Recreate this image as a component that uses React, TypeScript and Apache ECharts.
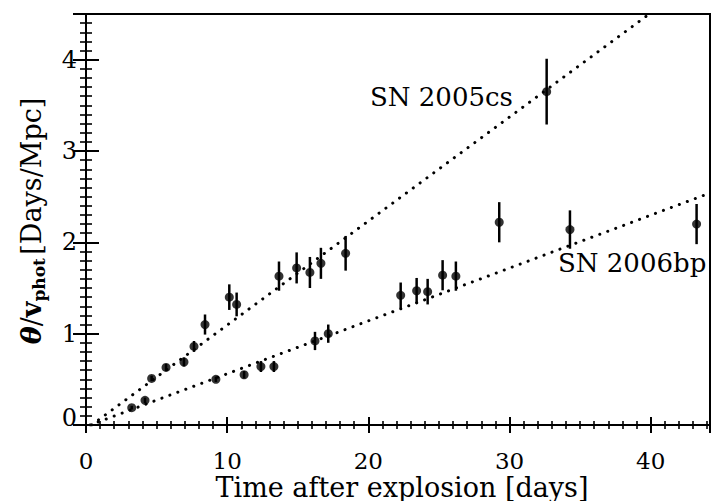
import React, { useEffect, useRef } from "react";
import * as echarts from "echarts";

// SN 2005cs: time [days], theta/v_phot [Days/Mpc], error
const t2005cs = [4.65, 5.67, 6.94, 7.65, 8.43, 10.15, 10.67, 13.67, 14.92, 15.86, 16.64, 18.39, 32.63];
const v2005cs = [0.51, 0.63, 0.69, 0.86, 1.1, 1.4, 1.32, 1.63, 1.72, 1.67, 1.77, 1.88, 3.65];
const e2005cs = [0.03, 0.04, 0.05, 0.06, 0.11, 0.14, 0.13, 0.16, 0.17, 0.17, 0.17, 0.19, 0.36];

// SN 2006bp
const t2006bp = [3.24, 4.18, 9.2, 11.2, 12.39, 13.31, 16.22, 17.16, 22.29, 23.42, 24.2, 25.26, 26.2, 29.27, 34.28, 43.25];
const v2006bp = [0.19, 0.27, 0.5, 0.55, 0.64, 0.64, 0.92, 1.0, 1.42, 1.47, 1.46, 1.64, 1.63, 2.22, 2.14, 2.2];
const e2006bp = [0.02, 0.03, 0.03, 0.04, 0.06, 0.06, 0.1, 0.1, 0.14, 0.14, 0.14, 0.165, 0.16, 0.22, 0.21, 0.22];

// dotted linear fits (end points)
const fit2005csT = [0.4, 39.9];
const fit2005csV = [0.0, 4.5];
const fit2006bpT = [0.3, 44.2];
const fit2006bpV = [0.0, 2.54];

const xMin = 0;
const xMax = 44.2;
const yMin = 0;
const yMax = 4.5;

const labels = ["SN 2005cs", "SN 2006bp"];
const xTitle = "Time after explosion [days]";

const FONT = "'DejaVu Serif', serif";

export default function App() {
  const ref = useRef<HTMLDivElement>(null);
  useEffect(() => {
    if (!ref.current) return;
    const chart = echarts.init(ref.current, undefined, { renderer: "svg" });
    const pts = (t: number[], v: number[], e: number[]) => t.map((x, i) => [x, v[i], e[i]]);
    const errRender = (params: any, api: any) => {
      const x = api.value(0);
      const y = api.value(1);
      const e = api.value(2);
      const p1 = api.coord([x, y - e]);
      const p2 = api.coord([x, y + e]);
      return {
        type: "line",
        shape: { x1: p1[0], y1: p1[1], x2: p2[0], y2: p2[1] },
        style: { stroke: "#000", lineWidth: 2.5 },
      };
    };
    const grid = { left: 86, top: 14, width: 624, height: 411, show: true, borderColor: "#000", borderWidth: 2, backgroundColor: "#fff" };
    const majorX = (pos: string, showLabel: boolean) => ({
      type: "value",
      position: pos,
      min: xMin,
      max: xMax,
      interval: 10,
      axisLine: { show: false },
      axisTick: { show: true, inside: true, length: 8, lineStyle: { color: "#000", width: 2 } },
      axisLabel: {
        show: showLabel,
        margin: 26,
        fontFamily: FONT,
        fontSize: 23,
        lineHeight: 20,
        color: "#000",
        showMaxLabel: false,
      },
      splitLine: { show: false },
    });
    const minorX = (pos: string) => ({
      type: "value",
      position: pos,
      min: xMin,
      max: xMax,
      interval: 1,
      axisLine: { show: false },
      axisTick: { show: true, inside: true, length: 4, lineStyle: { color: "#000", width: 1.6 } },
      axisLabel: { show: false },
      splitLine: { show: false },
    });
    const majorY = (pos: string, showLabel: boolean) => ({
      type: "value",
      position: pos,
      min: yMin,
      max: yMax,
      interval: 1,
      axisLine: { show: false },
      axisTick: { show: true, inside: true, length: 13, lineStyle: { color: "#000", width: 2 } },
      axisLabel: {
        show: showLabel,
        margin: 9,
        fontFamily: FONT,
        fontSize: 24,
        color: "#000",
        showMaxLabel: false,
        formatter: (v: number) => (v === 0 ? "{z|0}" : String(v)),
        rich: { z: { fontFamily: FONT, fontSize: 24, color: "#000", padding: [0, 0, 14, 0] } },
      },
      splitLine: { show: false },
    });
    const minorY = (pos: string) => ({
      type: "value",
      position: pos,
      min: yMin,
      max: yMax,
      interval: 0.1,
      axisLine: { show: false },
      axisTick: { show: true, inside: true, length: 6, lineStyle: { color: "#000", width: 1.6 } },
      axisLabel: { show: false },
      splitLine: { show: false },
    });

    const dotted = { color: "#000", width: 3, type: [0.1, 8.4], cap: "round" };

    chart.setOption({
      animation: false,
      backgroundColor: "#fff",
      grid,
      xAxis: [majorX("bottom", true), minorX("bottom"), majorX("top", false), minorX("top")],
      yAxis: [majorY("left", true), minorY("left"), majorY("right", false), minorY("right")],
      series: [
        {
          type: "line",
          data: fit2005csT.map((x, i) => [x, fit2005csV[i]]),
          symbol: "none",
          lineStyle: dotted,
          clip: true,
        },
        {
          type: "line",
          data: fit2006bpT.map((x, i) => [x, fit2006bpV[i]]),
          symbol: "none",
          lineStyle: dotted,
          clip: true,
        },
        { type: "custom", renderItem: errRender, data: pts(t2005cs, v2005cs, e2005cs), clip: true },
        { type: "custom", renderItem: errRender, data: pts(t2006bp, v2006bp, e2006bp), clip: true },
        {
          type: "scatter",
          data: t2005cs.map((x, i) => [x, v2005cs[i]]),
          symbol: "circle",
          symbolSize: 9,
          itemStyle: { color: "#000" },
        },
        {
          type: "scatter",
          data: t2006bp.map((x, i) => [x, v2006bp[i]]),
          symbol: "circle",
          symbolSize: 9,
          itemStyle: { color: "#000" },
        },
      ],
      graphic: [
        {
          type: "text",
          x: 370,
          y: 97,
          style: { text: labels[0], fontFamily: FONT, fontSize: 26, fill: "#000", align: "left", verticalAlign: "middle" },
        },
        {
          type: "text",
          x: 558,
          y: 263,
          style: { text: labels[1], fontFamily: FONT, fontSize: 26, fill: "#000", align: "left", verticalAlign: "middle" },
        },
        {
          type: "text",
          x: 402,
          y: 487,
          style: { text: xTitle, fontFamily: FONT, fontSize: 27, lineHeight: 24, fill: "#000", align: "center", verticalAlign: "middle" },
        },
        {
          type: "text",
          x: 31,
          y: 221,
          rotation: Math.PI / 2,
          style: {
            text: "{th|θ}{n|/}{v|v}{s|phot} {n|[Days/Mpc]}",
            align: "center",
            verticalAlign: "middle",
            fill: "#000",
            rich: {
              th: { fontFamily: FONT, fontSize: 27, fontStyle: "italic", fontWeight: "bold", lineHeight: 32, verticalAlign: "middle" },
              n: { fontFamily: FONT, fontSize: 27, lineHeight: 32, verticalAlign: "middle" },
              v: { fontFamily: FONT, fontSize: 27, fontWeight: "bold", lineHeight: 32, verticalAlign: "middle" },
              s: { fontFamily: FONT, fontSize: 17, fontWeight: "bold", lineHeight: 15, verticalAlign: "bottom" },
            },
          },
        },
      ],
    });
    return () => chart.dispose();
  }, []);
  return <div ref={ref} style={{ position: "fixed", left: 0, top: 0, width: 711, height: 501, background: "#fff" }} />;
}
